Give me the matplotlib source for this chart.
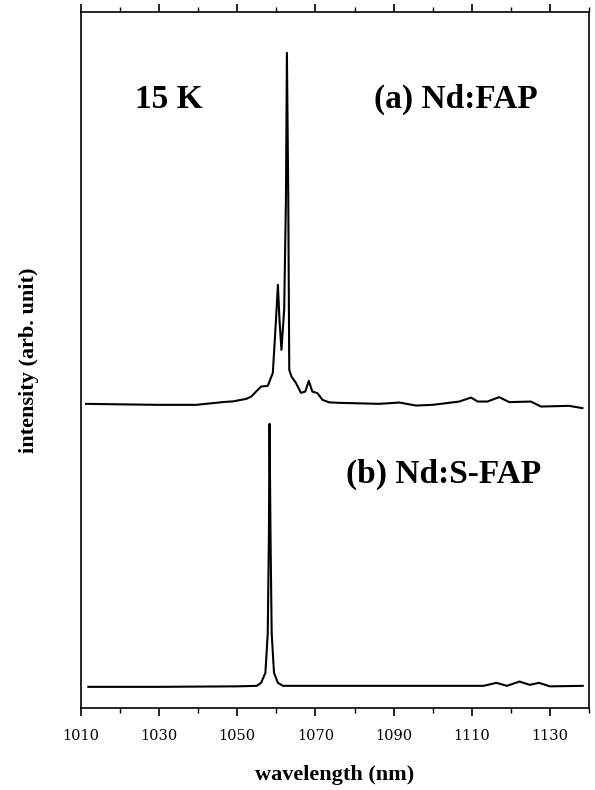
import numpy as np
import matplotlib
matplotlib.use('Agg')
import matplotlib.pyplot as plt
from matplotlib.ticker import MultipleLocator

# espectro (a) Nd:FAP, desplazado hacia arriba
wl_a = [1011.3, 1020, 1030, 1039.5, 1046.2, 1049, 1052.3, 1053.6, 1055, 1056.1,
        1057.8, 1059.1, 1059.8, 1060.4, 1060.8, 1061.3, 1062.0, 1062.45, 1062.7,
        1063.05, 1063.3, 1063.9, 1065.0, 1066.3, 1067.4, 1068.3, 1069.2, 1070.5,
        1071.8, 1073.5, 1076, 1086.3, 1091.5, 1095.7, 1100, 1106.8, 1109.8,
        1111.5, 1114, 1117, 1119.6, 1125.1, 1127.7, 1134.9, 1138.3]
int_a = [304, 303.5, 303, 303, 305.7, 306.5, 309, 311.3, 317, 321.3,
         322, 335, 381, 423, 388, 358, 398, 508, 655,
         508, 338, 331, 325, 315, 316.3, 327, 316.3, 314.7,
         308, 305.5, 305, 304, 305.3, 302.3, 303, 306.3, 310.3,
         306.3, 306.3, 310.7, 305.7, 306.3, 301.3, 302, 299.7]

# espectro (b) Nd:S-FAP
wl_b = [1011.9, 1030, 1050, 1055, 1056.1, 1057.2, 1057.8, 1058.1, 1058.26,
        1058.5, 1058.8, 1059.4, 1060.4, 1061.7, 1080, 1100, 1113, 1116.3,
        1119, 1122.2, 1124.8, 1127.2, 1130, 1138.4]
int_b = [21, 21, 21.5, 22, 25, 35, 75, 175, 284,
         175, 75, 35, 25, 22, 22, 22, 22, 25,
         22, 26.3, 23, 25, 21.5, 22]

plt.rcParams['font.family'] = ['Liberation Serif', 'DejaVu Serif']

fig = plt.figure(figsize=(5.95, 7.9), dpi=100)
ax = fig.add_axes([0.136, 0.104, 0.854, 0.881])

ax.plot(wl_a, int_a, '-k', lw=1.5)
ax.plot(wl_b, int_b, '-k', lw=1.5)

ax.set_xlim(1010, 1140)
ax.set_ylim(0, 696)

ax.xaxis.set_minor_locator(MultipleLocator(10))
ax.set_xticks(np.arange(1010, 1131, 20))
ax.tick_params(axis='x', which='both', direction='out', top=True, pad=9)
ax.tick_params(axis='x', which='major', length=6, width=1.2)
ax.tick_params(axis='x', which='minor', length=3.5, width=1)
for lab in ax.get_xticklabels():
    lab.set_fontfamily('DejaVu Serif')
    lab.set_fontsize(10.5)
ax.set_yticks([])
for s in ax.spines.values():
    s.set_linewidth(1.2)

ax.text(1023.8, 608, '15 K', fontsize=24, fontweight='bold', va='center', ha='left')
ax.text(1105.9, 608, '(a) Nd:FAP', fontsize=24, fontweight='bold', va='center', ha='center')
ax.text(1102.8, 233, '(b) Nd:S-FAP', fontsize=24, fontweight='bold', va='center', ha='center')

ax.set_xlabel('wavelength (nm)', fontsize=16, fontweight='bold', labelpad=16)
ax.set_ylabel('intensity (arb. unit)', fontsize=16, fontweight='bold', labelpad=30)

plt.savefig('out.png', dpi=100)
